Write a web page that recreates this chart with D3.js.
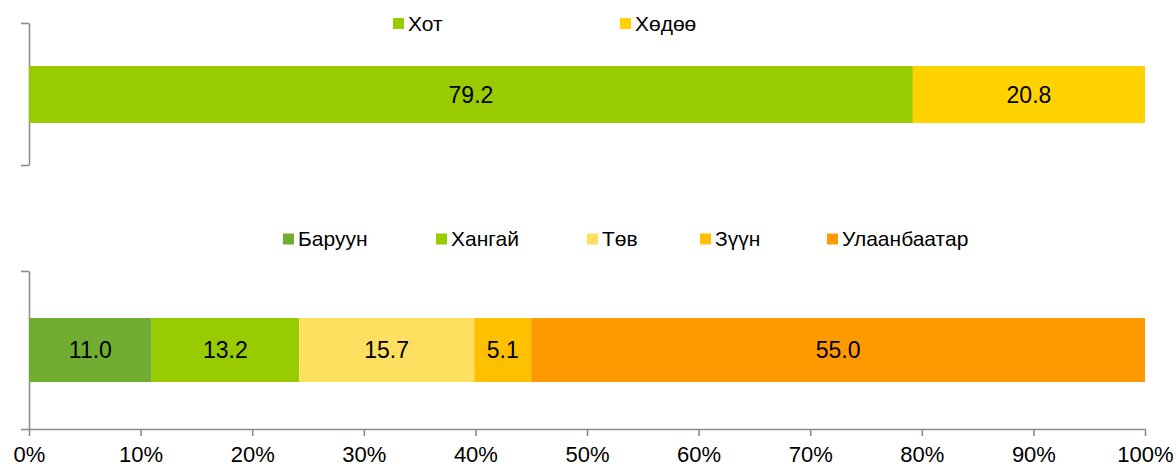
<!DOCTYPE html>
<html><head><meta charset="utf-8">
<script src="https://cdn.jsdelivr.net/npm/d3@7"></script>
<style>
body{margin:0;background:#fff;}
svg{display:block;font-family:"Liberation Sans",Arial,sans-serif;}
</style></head>
<body><svg id="c" width="1176" height="468"></svg>
<script>
const topCategories = ["Хот", "Хөдөө"];
const topValues = [79.2, 20.8];
const topColors = ["#99CC00", "#FFD200"];

const botCategories = ["Баруун", "Хангай", "Төв", "Зүүн", "Улаанбаатар"];
const botValues = [11.0, 13.2, 15.7, 5.1, 55.0];
const botColors = ["#71AD31", "#99CC00", "#FFDF5F", "#FFC000", "#FF9900"];

const xTicks = [0,10,20,30,40,50,60,70,80,90,100];

const svg = d3.select("#c");
const x = d3.scaleLinear().domain([0,100]).range([29,1145]);
const axisColor = "#8c8c8c";

function stack(vals){ let c=0; return vals.map(v=>{const s=c; c+=v; return [s,c];}); }

function panel(cats, vals, colors, yTop, yBot, barY0, barY1, legX, legY){
  const yScale = d3.scaleLinear().domain([0,1]).range([yBot,yTop]);
  const g = svg.append("g");
  const ax = g.append("g").attr("transform","translate(29,0)")
    .call(d3.axisLeft(yScale).tickValues([0,1]).tickFormat("").tickSize(8).tickSizeOuter(0));
  ax.selectAll("line,path").attr("stroke",axisColor).attr("stroke-width",1.6);
  const st = stack(vals);
  g.selectAll("rect.bar").data(vals).join("rect").attr("class","bar")
    .attr("x",(d,i)=>x(st[i][0])).attr("width",(d,i)=>x(st[i][1])-x(st[i][0]))
    .attr("y",barY0).attr("height",barY1-barY0)
    .attr("fill",(d,i)=>colors[i]);
  g.selectAll("text.lbl").data(vals).join("text").attr("class","lbl")
    .attr("x",(d,i)=>(x(st[i][0])+x(st[i][1]))/2)
    .attr("y",(barY0+barY1)/2).attr("dy","0.35em")
    .attr("text-anchor","middle").attr("font-size",23).attr("fill","#000")
    .text(d=>d.toFixed(1));
  const lg = g.selectAll("g.leg").data(cats).join("g").attr("class","leg")
    .attr("transform",(d,i)=>`translate(${legX[i]},${legY})`);
  lg.append("rect").attr("x",0).attr("y",-5.5).attr("width",11).attr("height",11)
    .attr("fill",(d,i)=>colors[i]);
  lg.append("text").attr("x",15).attr("y",0).attr("dy","0.35em")
    .attr("font-size",21).attr("fill","#000").text(d=>d);
  return yScale;
}

panel(topCategories, topValues, topColors, 23, 165, 66, 123, [393,620], 23.5);
panel(botCategories, botValues, botColors, 271, 429, 318, 382, [283,436,587,700,827], 239);

const xa = svg.append("g").attr("transform","translate(0,429)")
  .call(d3.axisBottom(x).tickValues(xTicks).tickFormat(d=>d+"%").tickSize(7).tickSizeOuter(0).tickPadding(10));
xa.selectAll("line,path").attr("stroke",axisColor).attr("stroke-width",1.6);
xa.selectAll("text").attr("font-size",22).attr("fill","#000").attr("font-family","Liberation Sans, Arial, sans-serif");
</script></body></html>
